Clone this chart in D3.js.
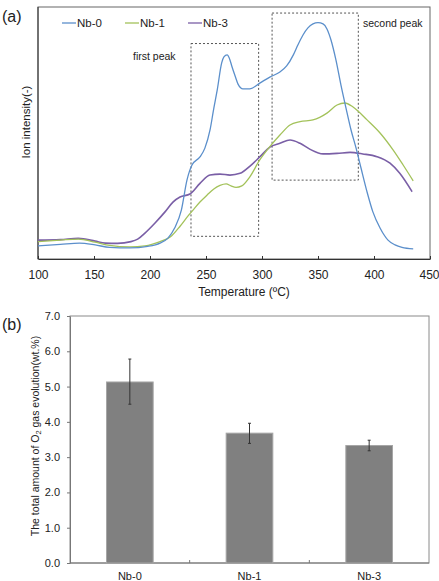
<!DOCTYPE html>
<html>
<head>
<meta charset="utf-8">
<script src="https://cdn.jsdelivr.net/npm/d3@7"></script>
<style>
  body { margin: 0; background: #fff; }
  text { font-family: "Liberation Sans", Arial, sans-serif; fill: #222; }
</style>
</head>
<body>
<svg id="chart" width="439" height="581"></svg>
<script>
// (a) ion intensity curves, temperature in degC / intensity in arbitrary units
var nb0Temp = [100, 120, 137, 151, 164, 182, 198, 209, 216, 222, 228, 233, 237.5, 244.6, 249, 253.6, 257, 260, 264, 266, 268.8, 271.4, 273, 276, 278.6, 283, 289, 298, 307, 316, 322, 328, 332, 336.6, 341, 345.5, 350, 354.5, 358, 361.6, 366, 370.5, 375, 379.5, 384, 388.4, 393.8, 399, 405.4, 412.5, 418.8, 425, 435];
var nb0Int  = [5.2, 5.8, 6.3, 5.6, 4.6, 4.4, 5.0, 6.3, 8.3, 12.3, 19.4, 31.3, 37.3, 40.5, 44, 51.2, 59.9, 67, 77.8, 80.2, 81, 79, 76.6, 72.6, 69.4, 67.5, 67.5, 69.8, 72.2, 74.2, 76.6, 81, 84.9, 88.9, 91.7, 93.3, 93.8, 93.3, 91.3, 86.9, 79, 69, 59.9, 51.2, 44, 36.1, 26.6, 18.7, 12.3, 7.5, 5.6, 4.6, 4.0];

var nb1Temp = [100, 120, 136, 151, 164, 182, 195.5, 209, 218, 227, 234, 238.4, 244.6, 251, 257, 262.5, 268, 272.3, 276.8, 282, 289, 298, 307, 316, 325, 334, 345.5, 358, 367, 374, 381.3, 393.8, 405.4, 417, 426, 435];
var nb1Int  = [6.9, 7.5, 7.9, 6.7, 5.4, 4.8, 5.2, 6.9, 8.7, 13.1, 17.1, 19.4, 22.6, 25.4, 27.8, 29.2, 29.8, 29, 28.4, 29, 32.5, 39.3, 44.6, 49.2, 53.2, 54.5, 55.2, 57.9, 61.1, 61.9, 60.3, 55.2, 50, 43.3, 37.3, 31];

var nb3Temp = [100, 120, 136, 151, 160, 171, 183, 189, 195.5, 204.5, 213.4, 220.5, 226.8, 235.7, 244.6, 253.6, 262.5, 271.4, 280.4, 289.3, 298.2, 307, 316, 325, 334, 343, 354.5, 367, 378.6, 390, 402.7, 414.3, 423, 434];
var nb3Int  = [7.5, 7.7, 8.2, 7.1, 6.3, 6.2, 6.9, 7.9, 10.3, 14.3, 18.7, 22.6, 24.6, 25.8, 30, 33.3, 33.7, 33.3, 34, 36.9, 40.6, 44.4, 45.9, 47.2, 45.9, 43.5, 41.7, 41.9, 42.3, 41.7, 40.6, 38, 34, 26.7];

var seriesNames = ["Nb-0", "Nb-1", "Nb-3"];
var seriesColors = ["#5b8fcb", "#a3c25a", "#7a5fa6"];
var xTicksTop = [100, 150, 200, 250, 300, 350, 400, 450];

// dashed boxes [T0, T1, intensity low, intensity high]
var firstPeakBox = [236.6, 297, 9, 85.5];
var secondPeakBox = [309, 386, 31.3, 97.6];

// (b) total O2 evolution
var samples = ["Nb-0", "Nb-1", "Nb-3"];
var o2Amount = [5.13, 3.68, 3.33];
var o2Low = [4.5, 3.39, 3.18];
var o2High = [5.78, 3.96, 3.48];
var yTicksBottom = [0, 1, 2, 3, 4, 5, 6, 7];

var svg = d3.select("#chart");

// ---------- panel (a) ----------
var aL = 38, aR = 430, aT = 7, aB = 259;
var xA = d3.scaleLinear().domain([100, 450]).range([aL, aR]);
var yA = d3.scaleLinear().domain([0, 100]).range([aB, aT]);

svg.append("rect")
    .attr("x", aL).attr("y", aT)
    .attr("width", aR - aL).attr("height", aB - aT)
    .attr("fill", "none").attr("stroke", "#666").attr("stroke-width", 1);

var axA = svg.append("g")
    .attr("transform", "translate(0," + aB + ")")
    .call(d3.axisBottom(xA).tickValues(xTicksTop).tickSizeInner(-3).tickSizeOuter(0).tickPadding(11).tickFormat(d3.format("d")));
axA.select(".domain").attr("stroke", "#333");
axA.selectAll(".tick line").attr("stroke", "#333");
axA.selectAll(".tick text").style("font-size", "12px").attr("fill", "#222");
// last label sits against the right edge, like the original
axA.selectAll(".tick text").filter(function(d) { return d === 450; })
    .attr("text-anchor", "end").attr("x", 9);

svg.append("line")
    .attr("x1", aL).attr("x2", aL).attr("y1", aT).attr("y2", aB)
    .attr("stroke", "#333");

// dashed boxes
[firstPeakBox, secondPeakBox].forEach(function(b) {
    svg.append("rect")
        .attr("x", xA(b[0])).attr("y", yA(b[3]))
        .attr("width", xA(b[1]) - xA(b[0]))
        .attr("height", yA(b[2]) - yA(b[3]))
        .attr("fill", "none").attr("stroke", "#555")
        .attr("stroke-width", 1).attr("stroke-dasharray", "2,2");
});

var lineGen = d3.line()
    .x(function(d) { return xA(d[0]); })
    .y(function(d) { return yA(d[1]); })
    .curve(d3.curveMonotoneX);

var allSeries = [
    d3.zip(nb0Temp, nb0Int),
    d3.zip(nb1Temp, nb1Int),
    d3.zip(nb3Temp, nb3Int)
];

// draw purple & green first, blue on top like original
[2, 1, 0].forEach(function(i) {
    svg.append("path")
        .datum(allSeries[i])
        .attr("d", lineGen)
        .attr("fill", "none")
        .attr("stroke", seriesColors[i])
        .attr("stroke-width", i === 2 ? 1.6 : 1.3);
});

// legend
var legendX = [62, 125, 188];
seriesNames.forEach(function(name, i) {
    svg.append("line")
        .attr("x1", legendX[i]).attr("x2", legendX[i] + 14)
        .attr("y1", 23).attr("y2", 23)
        .attr("stroke", seriesColors[i]).attr("stroke-width", 1.3);
    svg.append("text")
        .attr("x", legendX[i] + 15).attr("y", 27)
        .style("font-size", "11.5px")
        .text(name);
});

svg.append("text").attr("x", 133).attr("y", 59.5).style("font-size", "10.5px").text("first peak");
svg.append("text").attr("x", 363).attr("y", 26.5).style("font-size", "10.5px").text("second peak");

svg.append("text")
    .attr("x", 244).attr("y", 296)
    .attr("text-anchor", "middle")
    .style("font-size", "12px")
    .text("Temperature (ºC)");

svg.append("text")
    .attr("transform", "translate(29.5,122) rotate(-90)")
    .attr("text-anchor", "middle")
    .style("font-size", "11.5px")
    .text("Ion intensity(-)");

svg.append("text").attr("x", 2).attr("y", 22).style("font-size", "16px").text("(a)");
svg.append("text").attr("x", 2).attr("y", 330).style("font-size", "16px").text("(b)");

// ---------- panel (b) ----------
var bL = 70, bR = 429, bT = 316, bB = 563;
var xB = d3.scaleBand().domain(samples).range([bL, bR]).paddingInner(0.61).paddingOuter(0.305);
var yB = d3.scaleLinear().domain([0, 7]).range([bB, bT]);

svg.append("rect")
    .attr("x", bL).attr("y", bT)
    .attr("width", bR - bL).attr("height", bB - bT)
    .attr("fill", "none").attr("stroke", "#8a8a8a").attr("stroke-width", 1);

var ayB = svg.append("g")
    .attr("transform", "translate(" + bL + ",0)")
    .call(d3.axisLeft(yB).tickValues(yTicksBottom).tickSizeInner(3).tickSizeOuter(0).tickPadding(7).tickFormat(d3.format(".1f")));
ayB.select(".domain").attr("stroke", "#777");
ayB.selectAll(".tick line").attr("stroke", "#777");
ayB.selectAll(".tick text").style("font-size", "11px").attr("fill", "#222");

// category separators on the bottom axis
var step = (bR - bL) / samples.length;
var sepTicks = d3.range(1, samples.length).map(function(i) { return bL + i * step; });

svg.append("line")
    .attr("x1", bL).attr("x2", bR).attr("y1", bB).attr("y2", bB)
    .attr("stroke", "#777");
svg.selectAll(".sep")
    .data(sepTicks)
    .enter().append("line")
    .attr("x1", function(d) { return d; }).attr("x2", function(d) { return d; })
    .attr("y1", bB).attr("y2", bB - 3)
    .attr("stroke", "#777");

svg.selectAll(".bar")
    .data(samples)
    .enter().append("rect")
    .attr("x", function(d) { return xB(d); })
    .attr("y", function(d, i) { return yB(o2Amount[i]); })
    .attr("width", xB.bandwidth())
    .attr("height", function(d, i) { return bB - yB(o2Amount[i]); })
    .attr("fill", "#808080")
    .attr("stroke", "#a6a6a6").attr("stroke-width", 1);

samples.forEach(function(s, i) {
    var cx = xB(s) + xB.bandwidth() / 2;
    var g = svg.append("g").attr("stroke", "#333").attr("stroke-width", 1);
    g.append("line").attr("x1", cx).attr("x2", cx).attr("y1", yB(o2Low[i])).attr("y2", yB(o2High[i]));
    g.append("line").attr("x1", cx - 1.5).attr("x2", cx + 1.5).attr("y1", yB(o2Low[i])).attr("y2", yB(o2Low[i]));
    g.append("line").attr("x1", cx - 1.5).attr("x2", cx + 1.5).attr("y1", yB(o2High[i])).attr("y2", yB(o2High[i]));

    svg.append("text")
        .attr("x", cx).attr("y", 580)
        .attr("text-anchor", "middle")
        .style("font-size", "11px")
        .text(s);
});

var yTitle = svg.append("text")
    .attr("transform", "translate(38.5,436) rotate(-90)")
    .attr("text-anchor", "middle")
    .style("font-size", "10.5px");
yTitle.append("tspan").text("The total amount of O");
yTitle.append("tspan").attr("dy", 2.5).style("font-size", "7.5px").text("2");
yTitle.append("tspan").attr("dy", -2.5).text(" gas evolution(wt.%)");
</script>
</body>
</html>
